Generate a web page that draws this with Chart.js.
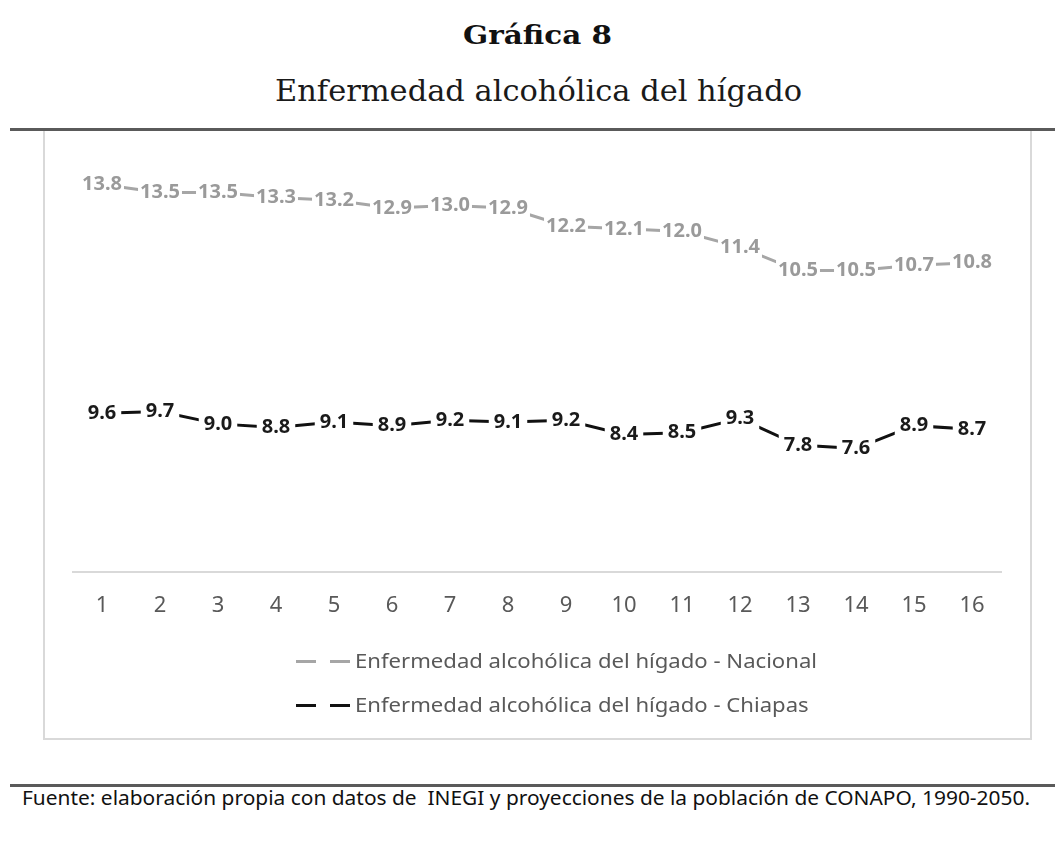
<!DOCTYPE html>
<html>
<head>
<meta charset="utf-8">
<script src="https://cdn.jsdelivr.net/npm/chart.js@4"></script>
<style>
  html, body { margin: 0; padding: 0; background: #fff; }
  body { width: 1055px; height: 846px; position: relative; overflow: hidden; }
  .fit { position: absolute; white-space: pre; line-height: 1; }
  #titulo { font-family: "DejaVu Serif"; font-weight: bold; font-size: 26px; color: #111; top: 22px; }
  #subtitulo { font-family: "DejaVu Serif"; font-size: 30px; color: #1a1a1a; top: 76px; }
  .regla { position: absolute; left: 10px; right: 0; height: 3px; background: #5a5a5a; }
  #caja { position: absolute; left: 43px; top: 131px; width: 985px; height: 607px;
          border: 2px solid #d9d9d9; border-top: none; }
  #grafica { position: absolute; left: 0; top: 0; }
  .leyenda { position: absolute; left: 0; height: 24px; font-family: "Noto Sans"; font-size: 20px; color: #595959; }
  .leyenda .d { position: absolute; top: 11px; height: 3px; }
  .leyenda span.t { position: absolute; left: 310px; top: 0; white-space: pre; line-height: 24px; }
  #fuente { font-family: "Noto Sans"; font-size: 19px; color: #111; top: 789px; }
</style>
</head>
<body>
<div id="titulo" class="fit">Gráfica 8</div>
<div id="subtitulo" class="fit">Enfermedad alcohólica del hígado</div>
<div class="regla" style="top:128px"></div>

<div id="caja">
  <canvas id="grafica" width="985" height="607"></canvas>
  <div class="leyenda" style="top:518px; width:985px">
    <div class="d" style="left:251px; width:20px; background:#a6a6a6"></div>
    <div class="d" style="left:285px; width:20px; background:#a6a6a6"></div>
    <span class="t" id="ley1"></span>
  </div>
  <div class="leyenda" style="top:562px; width:985px">
    <div class="d" style="left:251px; width:20px; background:#111"></div>
    <div class="d" style="left:285px; width:20px; background:#111"></div>
    <span class="t" id="ley2"></span>
  </div>
</div>

<div class="regla" style="top:784px"></div>
<div id="fuente" class="fit">Fuente: elaboración propia con datos de  INEGI y proyecciones de la población de CONAPO, 1990-2050.</div>

<script>
// ===== datos =====
const categorias = ["1", "2", "3", "4", "5", "6", "7", "8", "9", "10", "11", "12", "13", "14", "15", "16"];
const nacional = [13.8, 13.5, 13.5, 13.3, 13.2, 12.9, 13.0, 12.9, 12.2, 12.1, 12.0, 11.4, 10.5, 10.5, 10.7, 10.8];
const chiapas = [9.6, 9.7, 9.0, 8.8, 9.1, 8.9, 9.2, 9.1, 9.2, 8.4, 8.5, 9.3, 7.8, 7.6, 8.9, 8.7];
const nombreNacional = "Enfermedad alcohólica del hígado - Nacional";
const nombreChiapas = "Enfermedad alcohólica del hígado - Chiapas";

document.getElementById("ley1").textContent = nombreNacional;
document.getElementById("ley2").textContent = nombreChiapas;

// ajustar ancho de textos
function ajustar(id, izq, der) {
  const el = document.getElementById(id);
  const w = el.getBoundingClientRect().width;
  const s = (der - izq) / w;
  el.style.left = izq + "px";
  el.style.transformOrigin = "0 0";
  el.style.transform = "scaleX(" + s + ")";
  return s;
}
ajustar("titulo", 463, 612);
ajustar("subtitulo", 275, 802);
ajustar("fuente", 22, 1030);
// leyenda: mismo factor para las dos líneas
const sLey = ajustar("ley1", 310, 772);
const ley2 = document.getElementById("ley2");
ley2.style.transformOrigin = "0 0";
ley2.style.transform = "scaleX(" + sLey + ")";

// etiquetas de datos con fondo blanco
const etiquetas = {
  id: "etiquetas",
  afterDatasetsDraw(chart) {
    const ctx = chart.ctx;
    chart.data.datasets.forEach((ds, i) => {
      const meta = chart.getDatasetMeta(i);
      ctx.save();
      ctx.font = "bold 20px 'Noto Sans'";
      ctx.textAlign = "center";
      ctx.textBaseline = "middle";
      meta.data.forEach((pt, j) => {
        const txt = ds.data[j].toFixed(1);
        const w = ctx.measureText(txt).width;
        ctx.fillStyle = "#fff";
        ctx.fillRect(pt.x - w / 2 - ds.pad, pt.y - 12, w + 2 * ds.pad, 24);
        ctx.fillStyle = ds.colorEtiqueta;
        ctx.fillText(txt, pt.x, pt.y);
      });
      ctx.restore();
    });
  }
};

new Chart(document.getElementById("grafica"), {
  type: "line",
  data: {
    labels: categorias,
    datasets: [{
      label: nombreNacional,
      data: nacional,
      borderColor: "#a6a6a6",
      borderWidth: 3,
      pointRadius: 0,
      yAxisID: "yN",
      colorEtiqueta: "#9a9a9a",
      pad: 2
    }, {
      label: nombreChiapas,
      data: chiapas,
      borderColor: "#111",
      borderWidth: 3,
      pointRadius: 0,
      yAxisID: "yC",
      colorEtiqueta: "#1a1a1a",
      pad: 5
    }]
  },
  options: {
    responsive: false,
    animation: false,
    layout: { padding: { left: 28, right: 29, top: 20, bottom: 98 } },
    plugins: { legend: { display: false }, tooltip: { enabled: false } },
    scales: {
      x: {
        offset: true,
        grid: { display: false, drawTicks: false },
        border: { display: true, color: "#d9d9d9", width: 2 },
        ticks: { color: "#595959", font: { family: "Noto Sans", size: 22 }, padding: 21 }
      },
      yN: { display: false, min: -1.06, max: 15.09 },
      yC: { display: false, min: 0.62, max: 24.48 }
    }
  },
  plugins: [etiquetas]
});
</script>
</body>
</html>
